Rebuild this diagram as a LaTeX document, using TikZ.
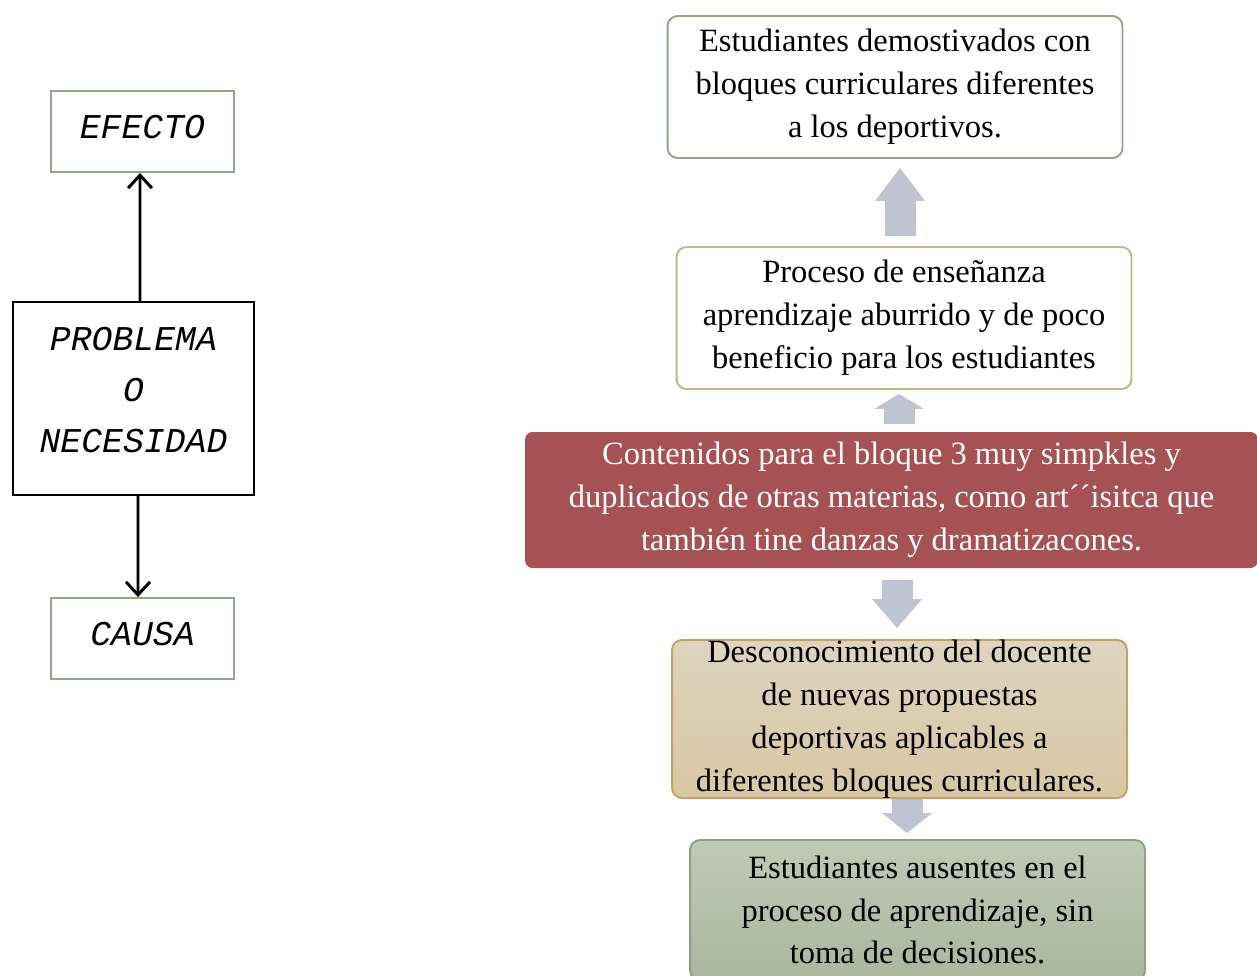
\documentclass[tikz,border=0pt]{standalone}
\usepackage{fontspec}
\setmainfont{Liberation Serif}
\newfontfamily\monoit{Liberation Mono}
\usetikzlibrary{arrows.meta,backgrounds}

\definecolor{boxgreen}{HTML}{93A783}
\definecolor{boxgold}{HTML}{C9B47C}
\definecolor{redfill}{HTML}{A65254}
\definecolor{arrowgray}{HTML}{BFC4D3}
\definecolor{tantop}{HTML}{DFD4BF}
\definecolor{tanbot}{HTML}{D8C7A4}
\definecolor{tanline}{HTML}{C0A464}
\definecolor{greentop}{HTML}{BFCAB5}
\definecolor{greenbot}{HTML}{A9B79D}
\definecolor{greenline}{HTML}{8E9F80}

\tikzset{
  leftbox/.style={draw=boxgreen,line width=1.1pt,inner sep=0pt,minimum width=3.66cm,minimum height=1.62cm,text depth=0.18cm,
    font=\monoit\itshape\fontsize{19.8}{29}\selectfont},
  probbox/.style={draw=black,line width=1.4pt,inner sep=0pt,minimum width=4.82cm,minimum height=3.86cm,align=center,text depth=0.36cm,
    font=\monoit\itshape\fontsize{19.8}{29}\selectfont},
  ptr/.style={line width=1.7pt,-{Straight Barb[width=0.48cm,length=0.26cm]}},
  flowbox/.style={rounded corners=0.2cm,line width=1.1pt,inner sep=0pt,minimum width=9.1cm,minimum height=2.84cm,align=center,
    font=\fontsize{18.5}{24.4}\selectfont},
  bigarrow/.style={draw=arrowgray,line width=0.62cm,-{Triangle[width=1cm,length=#1,line width=0pt]}},
  bigarrow/.default=0.6cm
}

\begin{document}
\begin{tikzpicture}[x=0.02cm,y=-0.02cm]
\useasboundingbox (0,0) rectangle (1257,975);

% left: scheme
\node (efecto) at (142.5,131.5) [leftbox] {EFECTO};
\node (problema) at (133.5,398.5) [probbox] {PROBLEMA\\O\\NECESIDAD};
\node (causa) at (142.5,638.5) [leftbox] {CAUSA};

\draw[ptr] ([xshift=0.13cm]problema.north) -- ([xshift=-0.05cm]efecto.south);
\draw[ptr] ([xshift=0.09cm]problema.south) -- ([xshift=-0.09cm]causa.north);

% right: tree
\node (efecto1) at (895,87) [flowbox,draw=boxgreen,fill=white] {Estudiantes demostivados con\\bloques curriculares diferentes\\a los deportivos.};
\node (efecto2) at (904,318) [flowbox,draw=boxgold,fill=white] {Proceso de enseñanza\\aprendizaje aburrido y de poco\\beneficio para los estudiantes};
\node (central) at (891.5,500) [flowbox,fill=redfill,text=white,minimum width=14.66cm,minimum height=2.72cm,rounded corners=0.15cm]
  {Contenidos para el bloque 3 muy simpkles y\\duplicados de otras materias, como art´´isitca que\\también tine danzas y dramatizacones.};
\node (causa1) at (899.5,719) [flowbox,draw=tanline,top color=tantop,bottom color=tanbot]
  {Desconocimiento del docente\\de nuevas propuestas\\deportivas aplicables a\\diferentes bloques curriculares.};
\node (causa2) at (917.5,910) [flowbox,draw=greenline,top color=greentop,bottom color=greenbot,minimum height=2.8cm]
  {Estudiantes ausentes en el\\proceso de aprendizaje, sin\\toma de decisiones.};

\begin{pgfonlayer}{background}
\draw[bigarrow=0.66cm] ([xshift=-0.08cm,yshift=0.2cm]efecto2.north) -- ([xshift=-0.08cm,yshift=-0.18cm]efecto2.north |- efecto1.south);
\draw[bigarrow=0.3cm] ([xshift=0.15cm,yshift=0.14cm]central.north) -- ([xshift=0.15cm,yshift=-0.08cm]central.north |- efecto2.south);
\draw[bigarrow=0.58cm] ([xshift=0.11cm,yshift=-0.22cm]central.south) -- ([xshift=0.11cm,yshift=0.22cm]central.south |- causa1.north);
\draw[bigarrow=0.4cm] ([xshift=0.15cm,yshift=0.1cm]causa1.south) -- ([xshift=0.15cm,yshift=0.12cm]causa1.south |- causa2.north);
\end{pgfonlayer}
\end{tikzpicture}
\end{document}
